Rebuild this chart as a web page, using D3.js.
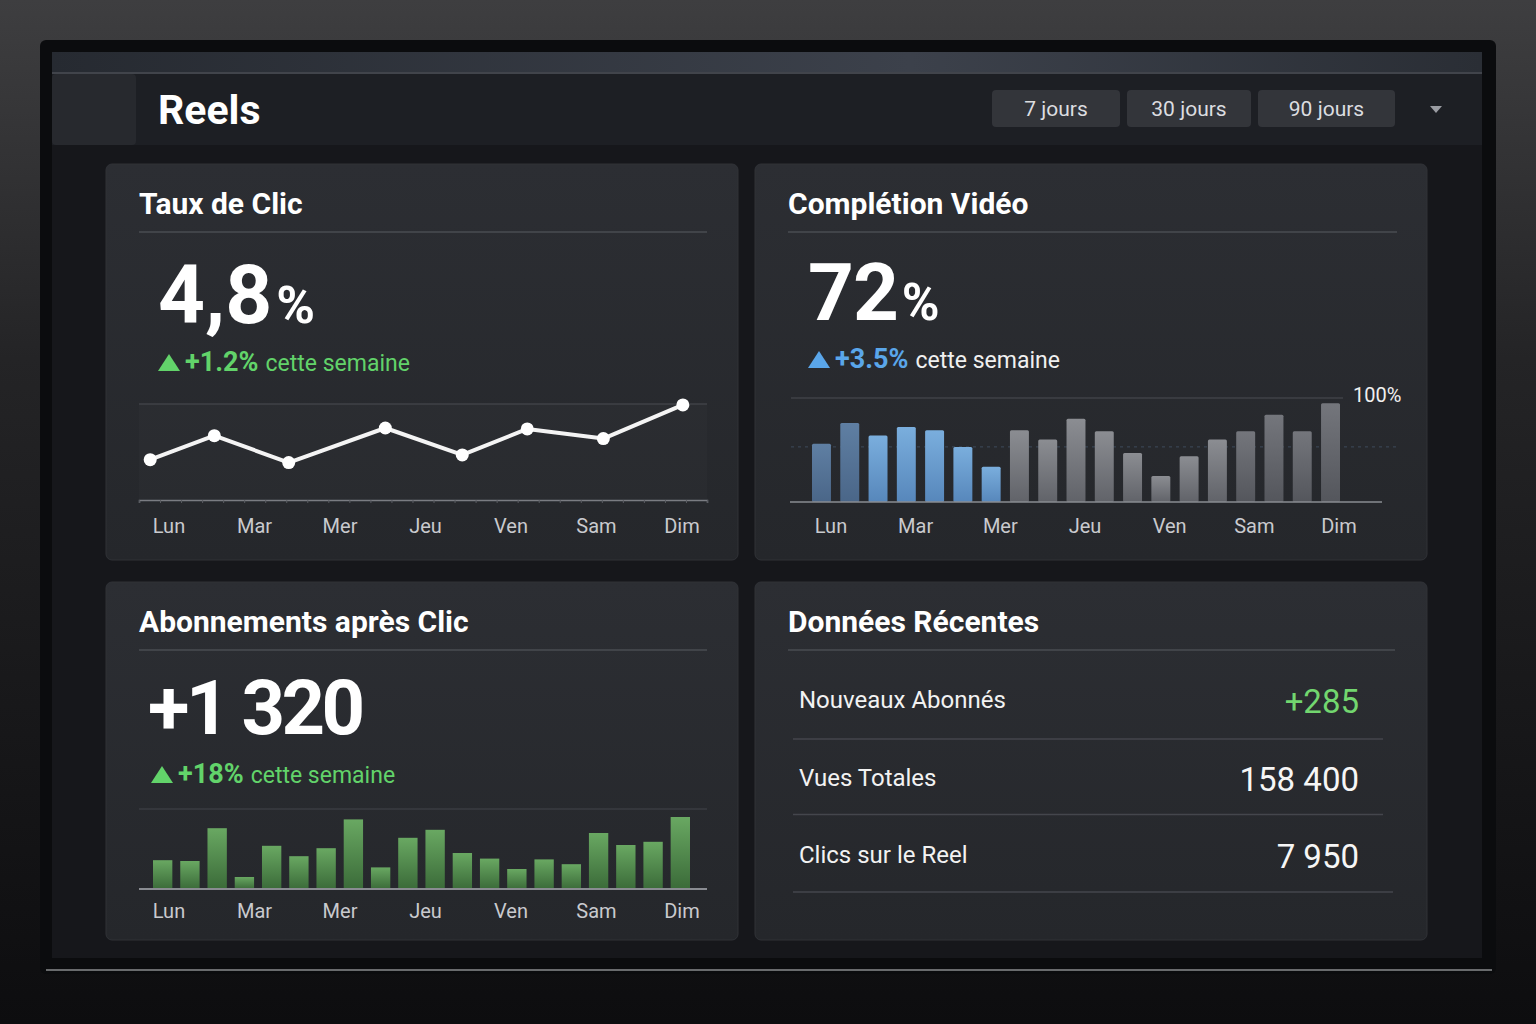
<!DOCTYPE html>
<html>
<head>
<meta charset="utf-8">
<script src="https://cdn.jsdelivr.net/npm/d3@7"></script>
<style>
  body { margin: 0; background: #111; }
  svg { display: block; }
</style>
</head>
<body>
<svg id="dash" width="1536" height="1024"></svg>
<script>
// data
const days = ["Lun", "Mar", "Mer", "Jeu", "Ven", "Sam", "Dim"];
const periods = ["7 jours", "30 jours", "90 jours"];
const clickDay = [-0.22, 0.53, 1.4, 2.53, 3.43, 4.19, 5.08, 6.01]; // position in days (Lun = 0)
const clickRate = [42, 67, 39, 75, 47, 74, 64, 99];               // relative, top grid = 100
const completion = [56, 76, 64, 72, 69, 53, 34, 69, 60, 80, 68, 47, 25, 44, 60, 68, 84, 68, 95]; // %
const follows = [36, 35, 76, 15, 54, 41, 51, 87, 27, 64, 74, 45, 38, 25, 37, 31, 70, 55, 59, 90];
const recentLabels = ["Nouveaux Abonnés", "Vues Totales", "Clics sur le Reel"];
const recentValues = ["+285", "158 400", "7 950"];

const svg = d3.select("#dash");
const font = "Roboto, 'Liberation Sans', sans-serif";
const green = "#62d36a";

const defs = svg.append("defs");
function linGrad(id, stops, x2 = 0, y2 = 1) {
  let g = defs.append("linearGradient").attr("id", id)
    .attr("x1", 0).attr("y1", 0).attr("x2", x2).attr("y2", y2);
  stops.forEach(s => g.append("stop").attr("offset", s[0]).attr("stop-color", s[1]));
}
linGrad("bg", [[0, "#3e3e40"], [0.35, "#242426"], [1, "#0d0d0f"]]);
linGrad("strip", [[0, "#262a31"], [0.6, "#3c414b"], [1, "#2a2e35"]], 1, 0);
linGrad("card", [[0, "#2c2e33"], [1, "#25272b"]]);
linGrad("greenBar", [[0, "#69a862"], [1, "#3b6b39"]]);
linGrad("blueBar", [[0, "#7aaedd"], [1, "#5787bb"]]);
linGrad("steelBar", [[0, "#5f7fa3"], [1, "#4a6688"]]);
linGrad("grayBar", [[0, "#8b8d92"], [1, "#616369"]]);
linGrad("grayBarDark", [[0, "#74767c"], [1, "#54565c"]]);

// backdrop and monitor frame
svg.append("rect").attr("width", 1536).attr("height", 1024).attr("fill", "url(#bg)");
svg.append("rect").attr("x", 40).attr("y", 40).attr("width", 1456).attr("height", 934)
  .attr("rx", 6).attr("fill", "#0b0c0e");
svg.append("line").attr("x1", 46).attr("x2", 1492).attr("y1", 970).attr("y2", 970)
  .attr("stroke", "#8a8b8e").attr("stroke-width", 1.5);
svg.append("rect").attr("x", 52).attr("y", 52).attr("width", 1430).attr("height", 906)
  .attr("fill", "#16171b");

// header
svg.append("rect").attr("x", 52).attr("y", 52).attr("width", 1430).attr("height", 20).attr("fill", "url(#strip)");
svg.append("line").attr("x1", 52).attr("x2", 1482).attr("y1", 73).attr("y2", 73)
  .attr("stroke", "#50545c").attr("stroke-width", 1.5);
svg.append("rect").attr("x", 52).attr("y", 74).attr("width", 1430).attr("height", 71).attr("fill", "#1d1f24");
svg.append("rect").attr("x", 52).attr("y", 74).attr("width", 84).attr("height", 71).attr("rx", 4).attr("fill", "#27292e");
svg.append("text").attr("x", 158).attr("y", 124).text("Reels")
  .attr("font-family", font).attr("font-weight", 700).attr("font-size", 41).attr("fill", "#fff");

let btnX = d3.scaleOrdinal().domain(periods).range([992, 1127, 1258]);
let btnW = d3.scaleOrdinal().domain(periods).range([128, 124, 137]);
let btn = svg.selectAll(".period").data(periods).enter().append("g").classed("period", true)
  .attr("transform", d => `translate(${btnX(d)},90)`);
btn.append("rect").attr("width", d => btnW(d)).attr("height", 37).attr("rx", 4).attr("fill", "#33353a");
btn.append("text").attr("x", d => btnW(d) / 2).attr("y", 26).attr("text-anchor", "middle")
  .attr("font-family", font).attr("font-size", 21).attr("fill", "#dcdde0").text(d => d);
svg.append("path").attr("d", "M1430,106 L1442,106 L1436,113 Z").attr("fill", "#9a9ca2");

// cards
function card(x, y, w, h, title, lineTo) {
  svg.append("rect").attr("x", x).attr("y", y).attr("width", w).attr("height", h)
    .attr("rx", 6).attr("fill", "url(#card)").attr("stroke", "#303237");
  svg.append("text").attr("x", x + 33).attr("y", y + 50).text(title)
    .attr("font-family", font).attr("font-weight", 700).attr("font-size", 30).attr("fill", "#fff");
  svg.append("line").attr("x1", x + 33).attr("x2", lineTo).attr("y1", y + 68).attr("y2", y + 68)
    .attr("stroke", "#4a4c52").attr("stroke-width", 1.5);
}
card(106, 164, 632, 396, "Taux de Clic", 707);
card(755, 164, 672, 396, "Complétion Vidéo", 1397);
card(106, 582, 632, 358, "Abonnements après Clic", 707);
card(755, 582, 672, 358, "Données Récentes", 1395);

function bigNumber(x, y, value, unit, size, spacing) {
  let t = svg.append("text").attr("x", x).attr("y", y).attr("font-family", font)
    .attr("font-weight", 700).attr("fill", "#fff");
  t.append("tspan").attr("font-size", size).attr("letter-spacing", spacing).text(value);
  if (unit) t.append("tspan").attr("dx", 4).attr("font-size", size * 0.64).text(unit);
}
function trend(x, y, value, color, restColor) {
  svg.append("path").attr("d", `M${x},${y} L${x + 22},${y} L${x + 11},${y - 17} Z`).attr("fill", color);
  let t = svg.append("text").attr("x", x + 27).attr("y", y).attr("font-family", font).attr("fill", color);
  t.append("tspan").attr("font-size", 27).attr("font-weight", 700).text(value);
  t.append("tspan").attr("dx", 7).attr("font-size", 23).attr("fill", restColor).text("cette semaine");
}

bigNumber(158, 323, "4,8", "%", 82, 0);
trend(158, 371, "+1.2%", green, green);
bigNumber(808, 320, "72", "%", 80, -1);
trend(808, 368, "+3.5%", "#5aa6ea", "#f0f0f0");
bigNumber(148, 734, "+1 320", null, 76, -3.5);
trend(151, 783, "+18%", green, green);

function dayLabels(y, x0, x1) {
  let x = d3.scalePoint().domain(days).range([x0, x1]);
  svg.selectAll(null).data(days).enter().append("text")
    .attr("x", d => x(d)).attr("y", y).attr("text-anchor", "middle")
    .attr("font-family", font).attr("font-size", 20).attr("fill", "#c9cace").text(d => d);
}

// line chart: Taux de Clic
{
  let x = d3.scaleLinear().domain([0, 6]).range([169, 682]);
  let y = d3.scaleLinear().domain([0, 100]).range([500, 404]);
  svg.append("rect").attr("x", 139).attr("y", y(100)).attr("width", 568).attr("height", y(0) - y(100))
    .attr("fill", "#fff").attr("opacity", 0.015);
  svg.append("line").attr("x1", 139).attr("x2", 707).attr("y1", y(100)).attr("y2", y(100))
    .attr("stroke", "#4a4c52");
  let axis = svg.append("g").attr("transform", `translate(0,${y(0)})`)
    .call(d3.axisBottom(d3.scaleLinear().domain([0, 27]).range([139, 707])).ticks(27).tickSize(3).tickFormat(""));
  axis.selectAll("line").attr("stroke", "#5a5c62");
  axis.select(".domain").attr("stroke", "#7a7c82").attr("stroke-width", 1.5);
  svg.append("path").datum(clickRate)
    .attr("d", d3.line().x((d, i) => x(clickDay[i])).y(d => y(d)))
    .attr("fill", "none").attr("stroke", "#f4f4f4").attr("stroke-width", 4).attr("stroke-linejoin", "round");
  svg.selectAll(".pt").data(clickRate).enter().append("circle").classed("pt", true)
    .attr("cx", (d, i) => x(clickDay[i])).attr("cy", d => y(d)).attr("r", 6.5).attr("fill", "#fff");
  dayLabels(533, 169, 682);
}

// bar chart: Complétion Vidéo
{
  let x = d3.scaleBand().domain(d3.range(completion.length)).range([812, 1340]).paddingInner(0.33);
  let y = d3.scaleLinear().domain([0, 100]).range([502, 398]);
  svg.append("line").attr("x1", 791).attr("x2", 1343).attr("y1", y(100)).attr("y2", y(100))
    .attr("stroke", "#4a4c52");
  svg.append("line").attr("x1", 791).attr("x2", 1400).attr("y1", y(53)).attr("y2", y(53))
    .attr("stroke", "#3d4a5a").attr("stroke-dasharray", "3,4");
  svg.selectAll(".cbar").data(completion).enter().append("rect").classed("cbar", true)
    .attr("x", (d, i) => x(i)).attr("width", x.bandwidth())
    .attr("y", d => y(d)).attr("height", d => y(0) - y(d)).attr("rx", 1.5)
    .attr("fill", (d, i) => i < 2 ? "url(#steelBar)" : i < 7 ? "url(#blueBar)" : i < 15 ? "url(#grayBar)" : "url(#grayBarDark)");
  svg.append("line").attr("x1", 790).attr("x2", 1382).attr("y1", y(0)).attr("y2", y(0))
    .attr("stroke", "#8a8c92").attr("stroke-width", 1.5);
  svg.append("text").attr("x", 1353).attr("y", 402).text("100%")
    .attr("font-family", font).attr("font-size", 20).attr("fill", "#f0f0f0");
  dayLabels(533, 831, 1339);
}

// bar chart: Abonnements après Clic
{
  let x = d3.scaleBand().domain(d3.range(follows.length)).range([153, 690]).paddingInner(0.29);
  let y = d3.scaleLinear().domain([0, 100]).range([889, 809]);
  svg.append("line").attr("x1", 139).attr("x2", 707).attr("y1", y(100)).attr("y2", y(100))
    .attr("stroke", "#43454b");
  svg.selectAll(".fbar").data(follows).enter().append("rect").classed("fbar", true)
    .attr("x", (d, i) => x(i)).attr("width", x.bandwidth())
    .attr("y", d => y(d)).attr("height", d => y(0) - y(d)).attr("fill", "url(#greenBar)");
  svg.append("line").attr("x1", 139).attr("x2", 707).attr("y1", y(0)).attr("y2", y(0))
    .attr("stroke", "#8a8c92").attr("stroke-width", 2);
  dayLabels(918, 169, 682);
}

// Données Récentes table
{
  let y = d3.scalePoint().domain(recentLabels).range([700, 855]);
  let rows = svg.selectAll(".row").data(recentLabels).enter().append("g").classed("row", true)
    .attr("transform", d => `translate(0,${y(d)})`);
  rows.append("text").attr("x", 799).attr("y", 8).text(d => d)
    .attr("font-family", font).attr("font-size", 24).attr("fill", "#f2f2f2");
  rows.append("text").attr("x", 1359).attr("y", 13).attr("text-anchor", "end")
    .text((d, i) => recentValues[i])
    .attr("font-family", font).attr("font-size", 33)
    .attr("fill", (d, i) => i === 0 ? "#72d66f" : "#f6f6f6");
  rows.append("line").attr("x1", 793).attr("x2", (d, i) => i === 2 ? 1393 : 1383)
    .attr("y1", (d, i) => i === 0 ? 39 : 37).attr("y2", (d, i) => i === 0 ? 39 : 37)
    .attr("stroke", "#44464c").attr("stroke-width", 1.5);
}
</script>
</body>
</html>
